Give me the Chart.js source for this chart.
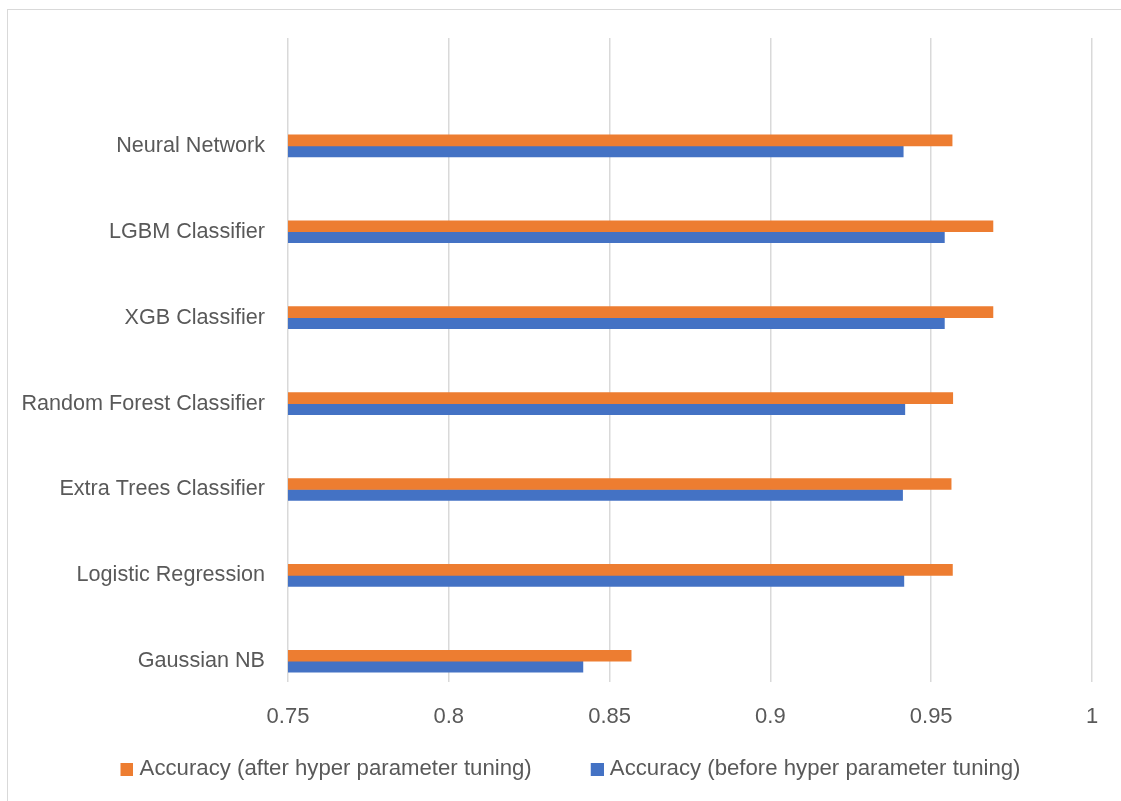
<!DOCTYPE html>
<html>
<head>
<meta charset="utf-8">
<title>Accuracy before and after hyper parameter tuning</title>
<script src="https://cdn.jsdelivr.net/npm/chart.js@4/dist/chart.umd.min.js"></script>
<style>
  html, body { margin: 0; padding: 0; background: #ffffff; overflow: hidden; }
  #frame {
    position: absolute; left: 7px; top: 9px; width: 1300px; height: 1000px;
    border: 1.5px solid #d9d9d9; box-sizing: border-box;
  }
  #wrap { position: absolute; left: 0; top: 0; width: 1121px; height: 801px; }
</style>
</head>
<body>
<div id="frame"></div>
<div id="wrap"><canvas id="chart" width="1121" height="801"></canvas></div>
<script>
// Models, listed top to bottom
const categories = [
  'Neural Network',
  'LGBM Classifier',
  'XGB Classifier',
  'Random Forest Classifier',
  'Extra Trees Classifier',
  'Logistic Regression',
  'Gaussian NB'
];

// Accuracy after tuning (orange) and before tuning (blue)
const accuracyAfter  = [0.9565, 0.9692, 0.9692, 0.9567, 0.9562, 0.9566, 0.8567];
const accuracyBefore = [0.9413, 0.9541, 0.9541, 0.9418, 0.9411, 0.9415, 0.8417];

const xTickLabels = ['0.75', '0.8', '0.85', '0.9', '0.95', '1'];

const seriesNames = [
  'Accuracy (after hyper parameter tuning)',
  'Accuracy (before hyper parameter tuning)'
];

const seriesColors = ['#ED7D31', '#4472C4'];

const FAMILY = '"Liberation Sans", Arial, sans-serif';
const X_FONT = { family: FAMILY, size: 22 };
const Y_FONT = { family: FAMILY, size: 21.6 };
const LEGEND_FONT = { family: FAMILY, size: 22.2 };
const TEXT_COLOR = '#595959';

// Legend swatch: a 13px square sitting at the right end of a wider slot,
// so the slot width sets the spacing between legend entries.
const SWATCH_SLOT = 37;
function makeSwatch(color) {
  const c = document.createElement('canvas');
  c.width = SWATCH_SLOT + 10;
  c.height = 13;
  const g = c.getContext('2d');
  g.fillStyle = color;
  g.fillRect(c.width - 13, 0, 13, 13);
  return c;
}
const legendSwatches = seriesColors.map(makeSwatch);

const toPoints = (vals) => vals.map((v, i) => ({ x: v, y: i }));

new Chart(document.getElementById('chart'), {
  type: 'bar',
  data: {
    datasets: [
      {
        label: seriesNames[0],
        data: toPoints(accuracyAfter),
        backgroundColor: seriesColors[0],
        barThickness: 11
      },
      {
        label: seriesNames[1],
        data: toPoints(accuracyBefore),
        backgroundColor: seriesColors[1],
        barThickness: 11
      }
    ]
  },
  options: {
    indexAxis: 'y',
    responsive: false,
    animation: false,
    layout: { padding: { top: 38, left: 20, right: 29, bottom: 10.6 } },
    plugins: {
      legend: {
        position: 'bottom',
        labels: {
          usePointStyle: true,
          pointStyleWidth: SWATCH_SLOT,
          boxHeight: 13,
          padding: 30,
          color: TEXT_COLOR,
          font: LEGEND_FONT,
          generateLabels: (chart) => {
            const items = Chart.defaults.plugins.legend.labels.generateLabels(chart);
            items.forEach((it, i) => { it.pointStyle = legendSwatches[i]; });
            return items;
          }
        }
      },
      tooltip: { enabled: false }
    },
    scales: {
      x: {
        type: 'linear',
        min: 0.75,
        max: 1,
        ticks: {
          stepSize: 0.05,
          padding: 22,
          color: TEXT_COLOR,
          font: X_FONT,
          callback: (v, i) => xTickLabels[i]
        },
        grid: { color: '#d9d9d9', lineWidth: 1.5, drawTicks: false },
        border: { display: false },
        afterFit: (scale) => { scale.height = 46; }
      },
      y: {
        type: 'linear',
        reverse: true,
        offset: false,
        min: -1.256,
        max: 6.244,
        afterBuildTicks: (scale) => {
          scale.ticks = categories.map((_, i) => ({ value: i }));
        },
        ticks: {
          autoSkip: false,
          padding: 23,
          color: TEXT_COLOR,
          font: Y_FONT,
          callback: (v) => categories[v]
        },
        grid: { display: false, drawTicks: false },
        border: { display: false },
        afterFit: (scale) => { scale.width = 268; }
      }
    }
  }
});
</script>
</body>
</html>
